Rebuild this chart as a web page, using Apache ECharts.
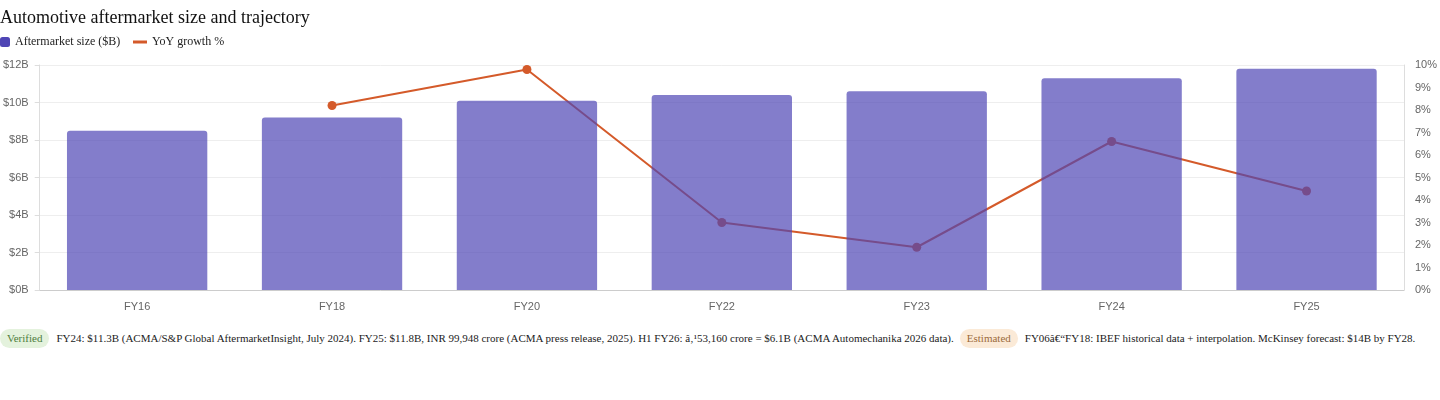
<!DOCTYPE html>
<html>
<head>
<meta charset="utf-8">
<script src="https://cdn.jsdelivr.net/npm/echarts@6/dist/echarts.min.js"></script>
<style>
  html, body { margin: 0; padding: 0; background: #fff; }
  #chart { width: 1440px; height: 315px; }
  #foot { display: flex; align-items: center; height: 20px; margin-top: 13px; font-family: "Liberation Serif", "Times New Roman", serif; font-size: 11px; color: #222; white-space: nowrap; }
  .pill { display: inline-block; padding: 0 7px; height: 19px; line-height: 19px; border-radius: 10px; margin-right: 7px; }
  .ver { background: #e4f2dd; color: #4d7d3c; }
  .est { background: #fbead7; color: #9b6b3b; margin-left: 6px; }
</style>
</head>
<body>
<div id="chart"></div>
<div id="foot">
  <span class="pill ver">Verified</span><span>FY24: $11.3B (ACMA/S&amp;P Global AftermarketInsight, July 2024). FY25: $11.8B, INR 99,948 crore (ACMA press release, 2025). H1 FY26: â‚¹53,160 crore = $6.1B (ACMA Automechanika 2026 data).</span><span class="pill est">Estimated</span><span>FY06â€“FY18: IBEF historical data + interpolation. McKinsey forecast: $14B by FY28.</span>
</div>
<script>
const categories = ['FY16', 'FY18', 'FY20', 'FY22', 'FY23', 'FY24', 'FY25'];
const sizeB = [8.5, 9.2, 10.1, 10.4, 10.6, 11.3, 11.8];
const yoyGrowth = [null, 8.2, 9.8, 3.0, 1.9, 6.6, 4.4];

const chart = echarts.init(document.getElementById('chart'));
const sans = '"Liberation Sans", Helvetica, Arial, sans-serif';
const serif = '"Liberation Serif", "Times New Roman", serif';
chart.setOption({
  animation: false,
  title: {
    text: 'Automotive aftermarket size and trajectory',
    left: 0, top: 9, padding: 0,
    textStyle: { fontFamily: serif, fontSize: 18, fontWeight: 'normal', color: '#111' }
  },
  legend: [{
    left: 0, top: 36, padding: 0, itemWidth: 10, itemHeight: 10,
    data: [{ name: 'Aftermarket size ($B)', icon: 'roundRect', itemStyle: { color: '#4f46b5', opacity: 1 } }],
    textStyle: { fontFamily: serif, fontSize: 12, color: '#222' }
  }, {
    left: 133, top: 36, padding: 0, itemWidth: 14, itemHeight: 10,
    data: [{ name: 'YoY growth %', icon: 'path://M0,4H14V7H0Z', itemStyle: { color: '#d45a2a' } }],
    textStyle: { fontFamily: serif, fontSize: 12, color: '#222' }
  }],
  grid: { left: 38, right: 35, top: 65, bottom: 25 },
  xAxis: {
    type: 'category', data: categories,
    axisLine: { lineStyle: { color: '#ccc' } },
    axisTick: { show: false },
    axisLabel: { color: '#666', fontFamily: sans, fontSize: 11, margin: 11 }
  },
  yAxis: [{
    type: 'value', min: 0, max: 12, interval: 2,
    axisLine: { show: true, lineStyle: { color: '#ddd' } },
    axisTick: { show: true, length: 5, lineStyle: { color: '#ddd' } },
    splitLine: { lineStyle: { color: '#eee' } },
    axisLabel: { color: '#666', fontFamily: sans, fontSize: 11, margin: 11, formatter: v => '$' + v + 'B' }
  }, {
    type: 'value', min: 0, max: 10, interval: 1,
    axisLine: { show: true, lineStyle: { color: '#ddd' } },
    axisTick: { show: false },
    splitLine: { show: false },
    axisLabel: { color: '#666', fontFamily: sans, fontSize: 11, margin: 11, formatter: v => v + '%' }
  }],
  series: [{
    name: 'YoY growth %', type: 'line', yAxisIndex: 1, data: yoyGrowth, z: 1,
    symbol: 'circle', symbolSize: 9, connectNulls: false,
    lineStyle: { color: '#d45a2a', width: 2 },
    itemStyle: { color: '#d45a2a' }
  }, {
    name: 'Aftermarket size ($B)', type: 'bar', data: sizeB, z: 2, barWidth: '72%',
    itemStyle: { color: '#4f46b5', opacity: 0.7, borderRadius: [3, 3, 0, 0] }
  }]
});
</script>
</body>
</html>
